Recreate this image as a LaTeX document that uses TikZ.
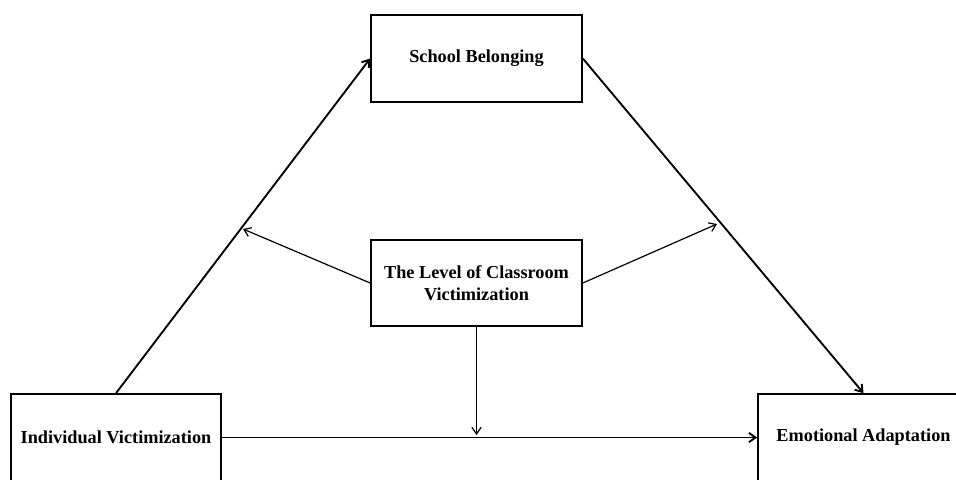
\documentclass[tikz,border=0pt]{standalone}
\usepackage{fontspec}
\setmainfont{Liberation Serif}
\usetikzlibrary{arrows.meta}
\tikzset{
	varbox/.style={draw,line width=1.5pt,minimum width=158pt,minimum height=65pt,inner sep=0pt,
		align=center,font=\fontsize{13.7}{16.5}\selectfont\bfseries},
	patharrow/.style={line width=1.4pt,-{Straight Barb[length=5pt,width=7pt]}},
	modarrow/.style={line width=0.9pt,-{Straight Barb[length=5pt,width=7pt]}}
}
\begin{document}
\begin{tikzpicture}[x=0.75pt,y=-0.75pt]
					\clip (0,0) rectangle (956,479); % Keeps the cut-off boxes cut off
					
					\node[varbox] (sb)  at (476.5,58.5) {School Belonging};
					\node[varbox] (lev) at (476.5,283) {The Level of Classroom\\Victimization};
					\node[varbox] (iv)  at (116,437.5) {Individual Victimization};
					\node[varbox] (ea)  at (863.5,437.5) {Emotional Adaptation};
					
					% Points where the moderating arrows stop
					\coordinate (m1) at (243,229);
					\coordinate (m2) at (717,224);
					\coordinate (m3) at (476.5,435);
					
					\draw [patharrow] (iv.north)
					-- (sb.west);
					
					\draw [patharrow] (sb.east)
					-- (ea.north);
					
					\draw [patharrow] (iv.east)
					-- (ea.west);
					
					\draw [modarrow] (lev.west)
					-- (m1);
					
					\draw [modarrow] (lev.east)
					-- (m2);
					
					\draw [modarrow] (lev.south)
					-- (m3);
					
\end{tikzpicture}
\end{document}
